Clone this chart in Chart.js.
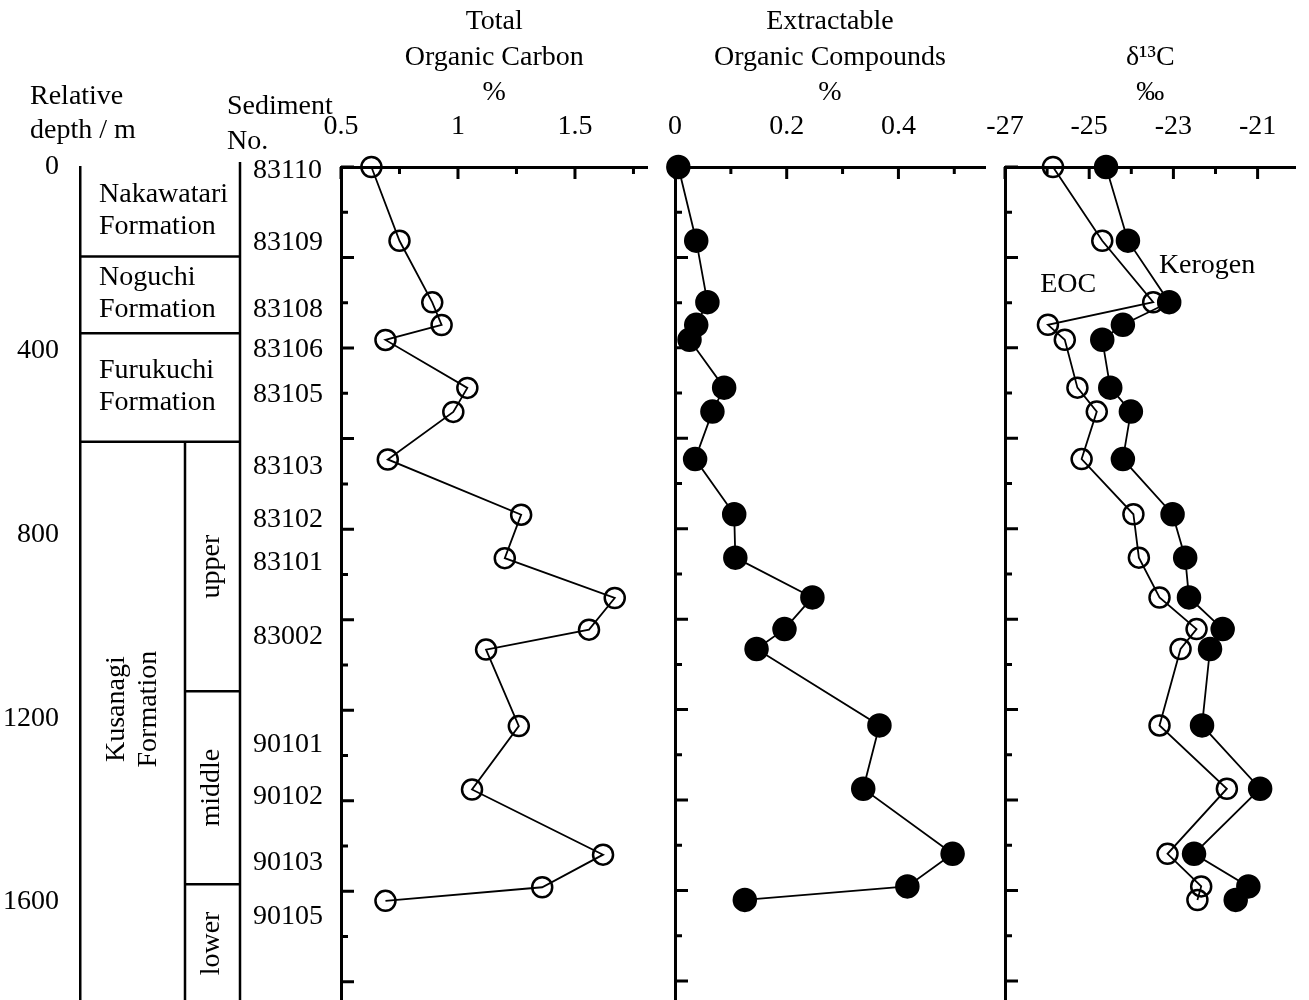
<!DOCTYPE html>
<html>
<head>
<meta charset="utf-8">
<script src="https://cdn.jsdelivr.net/npm/chart.js@4.4.1/dist/chart.umd.min.js"></script>
<style>
  html, body { margin: 0; padding: 0; background: #fff; overflow: hidden; }
  #page { position: relative; width: 1309px; height: 1000px; overflow: hidden; }
  canvas { position: absolute; top: 0; }
</style>
</head>
<body>
<div id="page">
  <canvas id="column" width="340" height="1017" style="left:0px"></canvas>
  <canvas id="toc" width="360" height="1017" style="left:300px"></canvas>
  <canvas id="eoc" width="360" height="1017" style="left:640px"></canvas>
  <canvas id="d13c" width="339" height="1017" style="left:970px"></canvas>
</div>
<script>
// relative depth (m) of each sample, top to bottom
var depth = [0, 163, 299, 349, 382, 488, 541, 646, 768, 864, 952, 1022, 1066, 1235, 1375, 1519, 1591, 1621];
// total organic carbon, %
var toc = [0.63, 0.75, 0.89, 0.93, 0.69, 1.04, 0.98, 0.70, 1.27, 1.20, 1.67, 1.56, 1.12, 1.26, 1.06, 1.62, 1.36, 0.69];
// extractable organic compounds, %
var eoc = [0.006, 0.038, 0.058, 0.038, 0.026, 0.088, 0.067, 0.036, 0.106, 0.108, 0.246, 0.196, 0.146, 0.366, 0.337, 0.497, 0.416, 0.125];
// delta 13C, permil
var d13cEOC = [-25.86, -24.69, -23.48, -25.98, -25.58, -25.28, -24.82, -25.18, -23.95, -23.82, -23.33, -22.45, -22.83, -23.33, -21.73, -23.14, -22.34, -22.43];
var d13cKerogen = [-24.60, -24.08, -23.10, -24.20, -24.69, -24.50, -24.01, -24.20, -23.02, -22.72, -22.63, -21.83, -22.13, -22.32, -20.94, -22.51, -21.22, -21.52];

var sedimentNo = ['83110', '83109', '83108', '83106', '83105', '83103', '83102', '83101', '83002', '90101', '90102', '90103', '90105'];
var sedimentDepth = [7, 165, 311, 398, 496, 653, 768, 862, 1023, 1258, 1371, 1515, 1632];

var formations = [['Nakawatari', 'Formation'], ['Noguchi', 'Formation'], ['Furukuchi', 'Formation']];
var formationTops = [0, 195, 362];
var kusanagiTop = 598;
var members = ['upper', 'middle', 'lower'];
var memberTops = [598, 1141, 1561];

var DEPTH_MAX = 1850;
var SERIF = '"Liberation Serif", "Times New Roman", serif';

Chart.defaults.font.family = SERIF;
Chart.defaults.font.size = 28;
Chart.defaults.color = '#000';

function pts(xs) {
  return xs.map(function (v, i) { return { x: v, y: depth[i] }; });
}

function isMajor(v, start, step) {
  var q = (v - start) / step;
  return Math.abs(q - Math.round(q)) < 1e-6;
}

// tick marks pointing into the plot, like the original figure
var inwardTicks = {
  id: 'inwardTicks',
  beforeDatasetsDraw: function (chart, args, o) {
    var ctx = chart.ctx, a = chart.chartArea;
    var sx = chart.scales.x, sy = chart.scales.y;
    ctx.save();
    ctx.strokeStyle = '#000';
    ctx.lineWidth = 3;
    ctx.beginPath();
    sx.ticks.forEach(function (t) {
      var px = sx.getPixelForValue(t.value);
      var len = isMajor(t.value, o.xStart, o.xMajor) ? 12 : 7;
      ctx.moveTo(px, a.top);
      ctx.lineTo(px, a.top + len);
    });
    sy.ticks.forEach(function (t) {
      var py = sy.getPixelForValue(t.value);
      var len = isMajor(t.value, 0, 200) ? 13 : 7;
      ctx.moveTo(a.left, py);
      ctx.lineTo(a.left + len, py);
    });
    ctx.stroke();
    ctx.restore();
  }
};

var textLabels = {
  id: 'textLabels',
  afterDatasetsDraw: function (chart, args, o) {
    if (!o.items) return;
    var ctx = chart.ctx;
    ctx.save();
    ctx.font = '28px ' + SERIF;
    ctx.fillStyle = '#000';
    ctx.textAlign = 'center';
    ctx.textBaseline = 'middle';
    o.items.forEach(function (it) {
      ctx.fillText(it.text, chart.scales.x.getPixelForValue(it.x), chart.scales.y.getPixelForValue(it.y));
    });
    ctx.restore();
  }
};

function panel(id, title, xMin, xMax, xStep, xMajor, pad, datasets, labels) {
  return new Chart(document.getElementById(id), {
    type: 'scatter',
    data: { datasets: datasets },
    options: {
      responsive: false,
      animation: false,
      layout: { padding: pad },
      plugins: {
        legend: { display: false },
        tooltip: { enabled: false },
        inwardTicks: { xStart: xMin, xMajor: xMajor },
        textLabels: { items: labels }
      },
      scales: {
        x: {
          type: 'linear',
          position: 'top',
          min: xMin,
          max: xMax,
          grid: { display: false },
          border: { display: true, width: 3, color: '#000' },
          ticks: {
            stepSize: xStep,
            includeBounds: false,
            autoSkip: false,
            maxRotation: 0,
            minRotation: 0,
            padding: 16,
            callback: function (v) { return isMajor(v, xMin, xMajor) ? String(v) : ''; }
          },
          title: {
            display: true,
            text: title,
            font: { size: 28, lineHeight: 1.27 },
            padding: { top: 4, bottom: 0 }
          },
          afterFit: function (s) { s.height = 167; }
        },
        y: {
          type: 'linear',
          reverse: true,
          min: 0,
          max: DEPTH_MAX,
          grid: { display: false },
          border: { display: true, width: 3, color: '#000' },
          ticks: { display: false, stepSize: 100, includeBounds: false, autoSkip: false },
          afterFit: function (s) { s.width = 0; }
        }
      }
    },
    plugins: [inwardTicks, textLabels]
  });
}

function series(values, filled) {
  return {
    data: pts(values),
    showLine: true,
    clip: false,
    borderColor: '#000',
    borderWidth: 1.8,
    pointRadius: filled ? 11 : 10,
    pointBorderWidth: 2.5,
    pointBorderColor: '#000',
    pointBackgroundColor: filled ? '#000' : 'rgba(0,0,0,0)'
  };
}

panel('toc', ['Total', 'Organic Carbon', '%'], 0.5, 1.81, 0.25, 0.5,
  { left: 41, right: 10, top: 0, bottom: 0 }, [series(toc, false)]);

panel('eoc', ['Extractable', 'Organic Compounds', '%'], 0, 0.555, 0.1, 0.2,
  { left: 35, right: 15, top: 0, bottom: 0 }, [series(eoc, true)]);

panel('d13c', ['', 'δ¹³C', '‰'], -27, -20.1, 1, 2,
  { left: 35, right: 0, top: 0, bottom: 0 },
  [series(d13cKerogen, true), series(d13cEOC, false)],
  [{ text: 'EOC', x: -25.5, y: 261 }, { text: 'Kerogen', x: -22.2, y: 218 }]);

// stratigraphic column with depth axis and sediment numbers
var columnPlugin = {
  id: 'columnPlugin',
  afterDraw: function (chart) {
    var ctx = chart.ctx, a = chart.chartArea, sy = chart.scales.y;
    var left = a.left, mid = left + 105, right = left + 160;
    function Y(d) { return sy.getPixelForValue(d); }
    function hline(x1, x2, y) { ctx.beginPath(); ctx.moveTo(x1, y); ctx.lineTo(x2, y); ctx.stroke(); }
    function vline(x, y1, y2) { ctx.beginPath(); ctx.moveTo(x, y1); ctx.lineTo(x, y2); ctx.stroke(); }

    ctx.save();
    ctx.strokeStyle = '#000';
    ctx.fillStyle = '#000';
    ctx.lineWidth = 2.5;
    vline(right, Y(0) - 5, a.bottom);
    formationTops.slice(1).concat([kusanagiTop]).forEach(function (d) { hline(left, right, Y(d)); });
    vline(mid, Y(kusanagiTop), a.bottom);
    memberTops.slice(1).forEach(function (d) { hline(mid, right, Y(d)); });

    ctx.font = '28px ' + SERIF;
    ctx.textBaseline = 'middle';
    ctx.textAlign = 'left';
    formations.forEach(function (f, i) {
      var bottom = i + 1 < formationTops.length ? formationTops[i + 1] : kusanagiTop;
      var cy = (Y(formationTops[i]) + Y(bottom)) / 2 - 1;
      ctx.fillText(f[0], left + 19, cy - 16);
      ctx.fillText(f[1], left + 19, cy + 16);
    });

    // rotated labels
    ctx.textAlign = 'center';
    ctx.save();
    ctx.translate((left + mid) / 2, Y(1180));
    ctx.rotate(-Math.PI / 2);
    ctx.fillText('Kusanagi', 0, -16);
    ctx.fillText('Formation', 0, 16);
    ctx.restore();
    var memberBottoms = [memberTops[1], memberTops[2], 1820];
    members.forEach(function (m, i) {
      var cy = (Y(memberTops[i]) + Y(memberBottoms[i])) / 2;
      if (i === 2) cy = Y(1690);
      ctx.save();
      ctx.translate((mid + right) / 2 - 1, cy);
      ctx.rotate(-Math.PI / 2);
      ctx.fillText(m, 0, 0);
      ctx.restore();
    });

    // sediment numbers
    ctx.textAlign = 'left';
    sedimentNo.forEach(function (s, i) {
      ctx.fillText(s, right + 13, Y(sedimentDepth[i]));
    });

    // headers
    ctx.fillText('Relative', 30, 97);
    ctx.fillText('depth / m', 30, 131);
    ctx.fillText('Sediment', 227, 107);
    ctx.fillText('No.', 227, 142);
    ctx.restore();
  }
};

new Chart(document.getElementById('column'), {
  type: 'scatter',
  data: { datasets: [] },
  options: {
    responsive: false,
    animation: false,
    layout: { padding: { top: 167, left: 0, right: 0, bottom: 0 } },
    plugins: { legend: { display: false }, tooltip: { enabled: false } },
    scales: {
      x: { type: 'linear', display: false, min: 0, max: 1 },
      y: {
        type: 'linear',
        reverse: true,
        min: 0,
        max: DEPTH_MAX,
        grid: { display: false },
        border: { display: true, width: 2.5, color: '#000' },
        ticks: {
          stepSize: 100,
          includeBounds: false,
          autoSkip: false,
          padding: 13,
          callback: function (v) { return isMajor(v, 0, 400) ? String(v) : ''; }
        },
        afterFit: function (s) {
          s.width = 80;
          s.paddingTop = 0;
          s.paddingBottom = 0;
        }
      }
    }
  },
  plugins: [columnPlugin]
});
</script>
</body>
</html>
